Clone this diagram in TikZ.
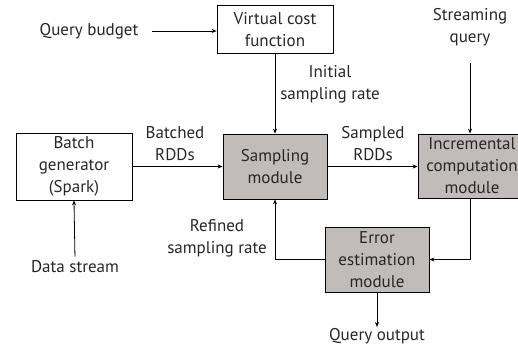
\documentclass[tikz,border=0pt]{standalone}
\usepackage{fontspec}
\setmainfont{PT Sans}
\usetikzlibrary{arrows.meta}

\definecolor{modgray}{RGB}{193,188,186}

\tikzset{
  blockbox/.style={draw, line width=0.8pt, minimum width=#1, inner sep=2pt, align=center},
  modbox/.style={blockbox=104pt, fill=modgray},
  lbl/.style={align=center, inner sep=1pt},
  flow/.style={-{Stealth[length=5pt,width=4pt]}, line width=0.8pt}
}

\begin{document}
\begin{tikzpicture}[x=1pt, y=-1pt, font=\fontsize{17}{22}\selectfont, text=black!85]

\useasboundingbox (0,0) rectangle (518,348);

% Part A: Boxes

% Virtual cost function
\node[blockbox=116pt, minimum height=48pt, text depth=0pt] (vcf) at (275,29.5) {Virtual cost\\function};

% Batch generator
\node[blockbox=116pt, minimum height=67pt] (bg) at (74,166.5) {Batch\\generator\\(Spark)};

% Sampling module
\node[modbox, minimum height=65pt] (sm) at (275,166.5) {Sampling\\module};

% Incremental computation module
\node[blockbox=108pt, fill=modgray, minimum height=64pt, text width=104pt] (icm) at (472,166) {Incremental\\computation\\module};

% Error estimation module
\node[modbox, minimum height=65pt] (eem) at (377,259.5) {Error\\estimation\\module};

% Part B: Labels

\node[lbl] (qb)  at (89,31)   {Query budget};
\node[lbl] (sq)  at (470,27)  {Streaming\\query};
\node[lbl] (isr) at (330,84)  {Initial\\sampling rate};
\node[lbl] (br)  at (175,144) {Batched\\RDDs};
\node[lbl] (sr)  at (373,144) {Sampled\\RDDs};
\node[lbl] (rsr) at (217,238) {Refined\\sampling rate};
\node[lbl] (ds)  at (75,267)  {Data stream};
\node[lbl] (qo)  at (377,336) {Query output};

% Part C: Connectors

\draw[flow, shorten <=12pt] (qb.east) -- (qb.east -| vcf.west);
\draw[flow] (vcf.south) -- (sm.north);
\draw[flow, shorten <=16pt] (sq.south) -- (sq.south |- icm.north);
\draw[flow] (bg.east) -- (sm.west);
\draw[flow] (sm.east) -- (sm.east -| icm.west);
\draw[flow] (sq.south |- icm.south) |- (eem.east);
\draw[flow] (eem.west) -| (sm.south);
\draw[flow, shorten <=3pt] (ds.north) -- (bg.south);
\draw[flow] (eem.south) -- (qo.north);

\end{tikzpicture}
\end{document}
